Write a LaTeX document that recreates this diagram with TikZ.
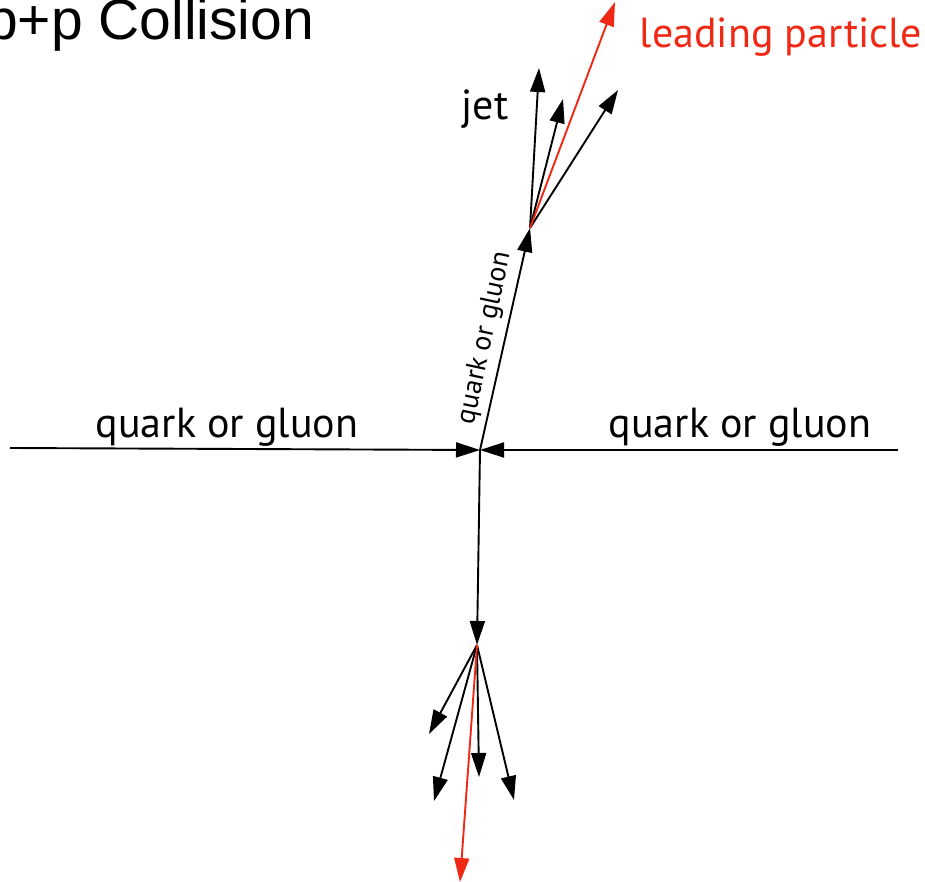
\documentclass[tikz,border=0pt]{standalone}
\usepackage{fontspec}
\setmainfont{PT Sans}
\newfontfamily\titlefont{Liberation Sans}
\usetikzlibrary{arrows.meta}
\definecolor{lead}{RGB}{240,40,20}
\tikzset{
  part/.style={line width=1.9pt,-{Triangle[length=24pt,width=15pt]}},
  leadpart/.style={part,draw=lead,fill=lead},
  lbl/.style={font=\fontsize{42}{46}\selectfont,inner sep=0pt},
}
\begin{document}
\begin{tikzpicture}[x=1pt,y=-1pt]
\useasboundingbox (0,0) rectangle (925,882);
\clip (0,0) rectangle (925,882);
\node[anchor=base west,inner sep=0pt,font=\titlefont\fontsize{57}{60}\selectfont] (title) at (-14,40) {p+p Collision};
\coordinate (L) at (10,448);
\coordinate (R) at (898,450);
\coordinate (C) at (480,450);
\coordinate (J) at (530,228);
\coordinate (B) at (477,645);
\draw[part] (L) -- (C);
\draw[part] (R) -- (C);
\draw[part] (C) -- (J);
\draw[part] (C) -- (B);
\node[lbl,anchor=base] (ql) at (227,437) {quark or gluon};
\node[lbl,anchor=base] (qr) at (740,437) {quark or gluon};
\node[inner sep=0pt,font=\fontsize{28}{30}\selectfont,rotate=78] (qm) at (485,338) {quark or gluon};
% upper jet
\coordinate (j1) at (539,68);
\coordinate (j2) at (563,99);
\coordinate (j3) at (618,90);
\coordinate (j4) at (615,2);
\draw[part] (J) -- (j1);
\draw[part] (J) -- (j2);
\draw[part] (J) -- (j3);
\draw[leadpart] (J) -- (j4);
\node[lbl,anchor=base] (jet) at (485,120) {jet};
\node[lbl,anchor=base,text=lead] (lp) at (781,48) {leading particle};
% lower jet
\coordinate (b1) at (429,734);
\coordinate (b2) at (434,801);
\coordinate (b3) at (479,777);
\coordinate (b4) at (514,800);
\coordinate (b5) at (460,882);
\draw[part] (B) -- (b1);
\draw[part] (B) -- (b2);
\draw[part] (B) -- (b3);
\draw[part] (B) -- (b4);
\draw[leadpart] (B) -- (b5);
\end{tikzpicture}
\end{document}
